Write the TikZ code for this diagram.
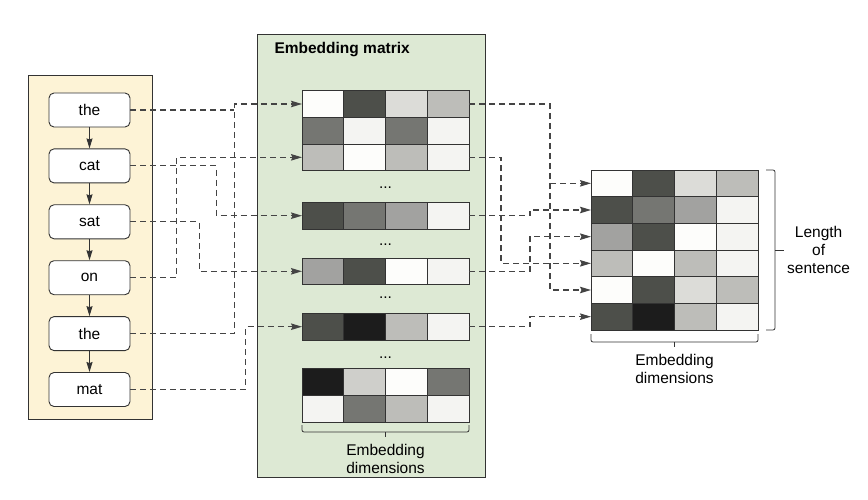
\documentclass[tikz,border=0pt]{standalone}
\usepackage{fontspec}
\setmainfont{Liberation Sans}
\usepackage{xcolor}
\usepackage{tikz}
\usetikzlibrary{positioning,arrows.meta}
\definecolor{wordbg}{HTML}{FDF3D6}
\definecolor{embbg}{HTML}{DDE9D4}
\definecolor{edge}{HTML}{333333}
\definecolor{linkgray}{HTML}{444444}
\definecolor{cw}{HTML}{FDFDFB}
\definecolor{cdark}{HTML}{4D4F4A}
\definecolor{cxlight}{HTML}{DCDCD8}
\definecolor{cmlight}{HTML}{BDBDB9}
\definecolor{cgray}{HTML}{757672}
\definecolor{cpale}{HTML}{F4F4F2}
\definecolor{cmid}{HTML}{A2A2A0}
\definecolor{cblack}{HTML}{1C1C1C}
\definecolor{clgray}{HTML}{CFCFCB}

\begin{document}
\begin{tikzpicture}[x=1pt, y=-1pt, font=\fontsize{15.5}{18}\selectfont]
    \tikzstyle{panel}=[draw=edge, line width=1pt, inner sep=0pt]
    \tikzstyle{word}=[draw=edge, fill=white, rounded corners=5pt, line width=0.9pt,
                      minimum width=81pt, minimum height=34pt, inner sep=0pt]
    \tikzstyle{cell}=[draw=edge, line width=0.9pt, minimum width=41.75pt,
                      minimum height=26.67pt, inner sep=0pt, outer sep=0pt]
    \tikzstyle{chain}=[draw=edge, line width=1pt,
                       -{Stealth[length=10pt,width=6pt,inset=1pt]}]
    \tikzstyle{link}=[draw=linkgray, line width=1.1pt, dash pattern=on 6pt off 4pt,
                      -{Stealth[length=11pt,width=6.5pt,inset=1.5pt]}]
    \tikzstyle{bracket}=[draw=edge, line width=0.8pt, rounded corners=2pt]
    \tikzstyle{caption}=[align=center, inner sep=0pt]

    \useasboundingbox (0,0) rectangle (868,500);

    \node[panel, fill=wordbg, minimum width=124pt, minimum height=343pt] (wordpanel) at (90,247.5) {};
    \node[panel, fill=embbg, minimum width=228pt, minimum height=442pt] (embpanel) at (371,256) {};
    \node[font=\fontsize{15.5}{18}\selectfont\bfseries, anchor=west] (embtitle)
         at ([xshift=14.5pt,yshift=-15.5pt]embpanel.north west) {Embedding matrix};

    % the sentence
    \node[word] (w1) at (89.5,110) {the};
    \node[word, below=21pt of w1] (w2) {cat};
    \node[word, below=21pt of w2] (w3) {sat};
    \node[word, below=21pt of w3] (w4) {on};
    \node[word, below=21pt of w4] (w5) {the};
    \node[word, below=21pt of w5] (w6) {mat};
    \draw[chain] (w1.south) -- (w2.north);
    \draw[chain] (w2.south) -- (w3.north);
    \draw[chain] (w3.south) -- (w4.north);
    \draw[chain] (w4.south) -- (w5.north);
    \draw[chain] (w5.south) -- (w6.north);

    % rows of the embedding matrix
    \foreach \r/\y/\ca/\cb/\cc/\cd in {A/104/cw/cdark/cxlight/cmlight,
        B/130.67/cgray/cpale/cgray/cpale, C/157.33/cmlight/cw/cmlight/cpale,
        D/215.7/cdark/cgray/cmid/cpale, E/271.3/cmid/cdark/cw/cpale,
        F/326.7/cdark/cblack/cmlight/cpale, G/382/cblack/clgray/cw/cgray,
        H/408.67/cpale/cgray/cmlight/cpale} {
      \node[cell, fill=\ca] (emb-\r-1) at (322.875,\y) {};
      \node[cell, fill=\cb, right=0pt of emb-\r-1] (emb-\r-2) {};
      \node[cell, fill=\cc, right=0pt of emb-\r-2] (emb-\r-3) {};
      \node[cell, fill=\cd, right=0pt of emb-\r-3] (emb-\r-4) {};
    }
    \node[anchor=base] (dots1) at (385.5,189) {...};
    \node[anchor=base] (dots2) at (385.5,245) {...};
    \node[anchor=base] (dots3) at (385.5,298) {...};
    \node[anchor=base] (dots4) at (385.5,358) {...};

    % sentence matrix
    \foreach \r/\y/\ca/\cb/\cc/\cd in {1/183.33/cw/cdark/cxlight/cmlight,
        2/210/cdark/cgray/cmid/cpale, 3/236.67/cmid/cdark/cw/cpale,
        4/263.33/cmlight/cw/cmlight/cpale, 5/290/cw/cdark/cxlight/cmlight,
        6/316.67/cdark/cblack/cmlight/cpale} {
      \node[cell, fill=\ca] (out-\r-1) at (611.875,\y) {};
      \node[cell, fill=\cb, right=0pt of out-\r-1] (out-\r-2) {};
      \node[cell, fill=\cc, right=0pt of out-\r-2] (out-\r-3) {};
      \node[cell, fill=\cd, right=0pt of out-\r-3] (out-\r-4) {};
    }

    % lookups
    \draw[link] (w5.east) -- ++(104pt,0) coordinate (thebend) |- (emb-A-1.west);
    \draw[link, -] (w1.east) -- (w1.east -| thebend);
    \draw[link] (w2.east) -- ++(86pt,0) |- (emb-D-1.west);
    \draw[link] (w3.east) -- ++(69pt,0) |- (emb-E-1.west);
    \draw[link] (w4.east) -- ++(46pt,0) |- (emb-C-1.west);
    \draw[link] (w6.east) -- ++(115pt,0) |- (emb-F-1.west);

    \draw[link] (emb-A-4.east) -- ++(81pt,0) coordinate (rowabend) |- (out-5-1.west);
    \draw[link] (rowabend |- out-1-1.west) -- (out-1-1.west);
    \draw[link] (emb-C-4.east) -- ++(32pt,0) |- (out-4-1.west);
    \draw[link] (emb-D-4.east) -- ++(61pt,0) |- (out-2-1.west);
    \draw[link] (emb-E-4.east) -- ++(61pt,0) |- (out-3-1.west);
    \draw[link] (emb-F-4.east) -- ++(61pt,0) |- (out-6-1.west);

    % brackets
    \draw[bracket] ([yshift=-3pt]emb-H-1.south west) -- ([yshift=-10pt]emb-H-1.south west)
        -- ([yshift=-10pt]emb-H-4.south east) -- ([yshift=-3pt]emb-H-4.south east);
    \draw[bracket] ([yshift=-10pt]emb-H-2.south east) -- ([yshift=-15pt]emb-H-2.south east) coordinate (embtick);
    \node[caption, below=7.5pt of embtick] (embdims) {Embedding\\dimensions};

    \draw[bracket] ([yshift=-4pt]out-6-1.south west) -- ([yshift=-12pt]out-6-1.south west)
        -- ([yshift=-12pt]out-6-4.south east) -- ([yshift=-4pt]out-6-4.south east);
    \draw[bracket] ([yshift=-12pt]out-6-2.south east) -- ([yshift=-17pt]out-6-2.south east) coordinate (outtick);
    \node[caption, below=7.5pt of outtick] (outdims) {Embedding\\dimensions};

    \draw[bracket] ([xshift=8pt]out-1-4.north east) -- ([xshift=17pt]out-1-4.north east)
        -- ([xshift=17pt]out-6-4.south east) -- ([xshift=8pt]out-6-4.south east);
    \draw[bracket] ([xshift=17pt]out-3-4.south east) -- ([xshift=26pt]out-3-4.south east) coordinate (lentick);
    \node[caption, right=3pt of lentick] (lenlabel) {Length\\of\\sentence};
\end{tikzpicture}
\end{document}
